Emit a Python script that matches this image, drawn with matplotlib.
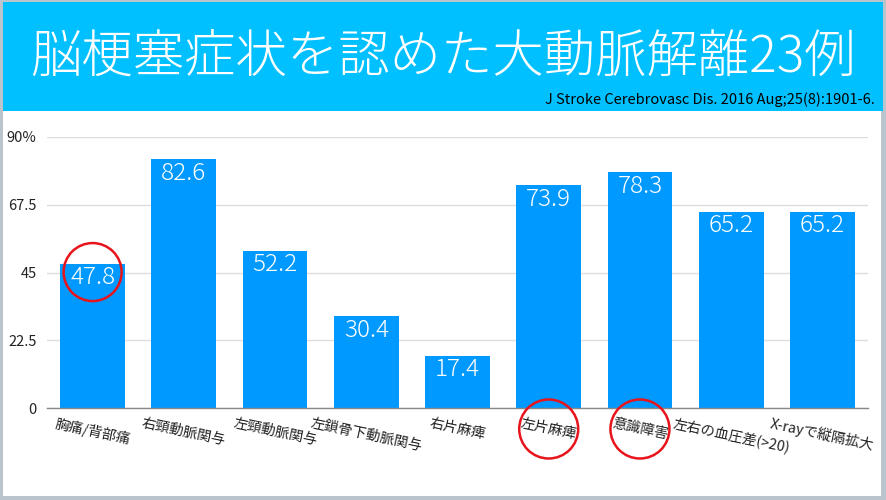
import matplotlib
matplotlib.use("Agg")
import matplotlib.pyplot as plt
from matplotlib.patches import Rectangle, Circle
from matplotlib.transforms import IdentityTransform

plt.rcParams['font.family'] = ['Noto Sans CJK JP', 'DejaVu Sans']

title = '脳梗塞症状を認めた大動脈解離23例'
citation = 'J Stroke Cerebrovasc Dis. 2016 Aug;25(8):1901-6.'
categories = ['胸痛/背部痛', '右頸動脈関与', '左頸動脈関与', '左鎖骨下動脈関与', '右片麻痺',
              '左片麻痺', '意識障害', '左右の血圧差(>20)', 'X-rayで縦隔拡大']
values = [47.8, 82.6, 52.2, 30.4, 17.4, 73.9, 78.3, 65.2, 65.2]
yticks = [0, 22.5, 45, 67.5, 90]
ytick_labels = ['0', '22.5', '45', '67.5', '90%']
value_circled = [0]      # bars whose value label is circled
label_circled = [5, 6]   # bars whose category label is circled

W, H = 886, 500
fig = plt.figure(figsize=(W / 100, H / 100), dpi=100, facecolor='#BAC4CD')

# slide background and header band (figure pixel coords)
px = lambda x, y: (x / W, 1 - y / H)
fig.patches.append(Rectangle(px(3, 496), 878 / W, 494 / H, transform=fig.transFigure,
                             facecolor='white', edgecolor='none', zorder=-2))
fig.patches.append(Rectangle(px(3, 111), 880 / W, 109 / H, transform=fig.transFigure,
                             facecolor='#00C0FF', edgecolor='none', zorder=-1))
fig.text(0.5, 1 - 57 / H, title, color='white', fontsize=37, ha='center', va='center',
         fontweight='light')
fig.text(875 / W, 1 - 100 / H, citation, color='black', fontsize=10.5, ha='right', va='center')

ax = fig.add_axes([47 / W, 92 / H, 821 / W, 271 / H])
ax.set_zorder(1)
ax.set_facecolor('none')
x = list(range(len(categories)))
ax.bar(x, values, width=0.71, color='#0099FF', zorder=2)
ax.set_xlim(-0.5, len(categories) - 0.5)
ax.set_ylim(0, 90)
ax.set_yticks(yticks)
ax.set_yticklabels(ytick_labels, fontsize=10.5, color='#222222')
ax.set_xticks(x)
ax.set_xticklabels(categories, fontsize=10.3, rotation=-12, ha='center', va='top',
                   color='#222222')
ax.tick_params(length=0, axis='y', pad=7.5)
ax.tick_params(length=0, axis='x', pad=6)
ax.grid(axis='y', color='#DDDDDD', linewidth=1, zorder=0)
ax.set_axisbelow(True)
for s in ['top', 'right', 'left']:
    ax.spines[s].set_visible(False)
ax.spines['bottom'].set_color('#888888')
ax.spines['bottom'].set_linewidth(1)
ax.spines['bottom'].set_zorder(3)

for i, v in zip(x, values):
    ax.annotate(f'{v}', (i, v), xytext=(0, -1), textcoords='offset points',
                ha='center', va='top', color='white', fontsize=17.5, fontweight='light',
                zorder=4)

# red highlight circles (computed from bar positions)
for i in value_circled:
    cx, cy = ax.transData.transform((i, values[i]))
    fig.patches.append(Circle((cx, cy - 8), 29, transform=IdentityTransform(),
                              fill=False, edgecolor='#E8141B', linewidth=1.8, zorder=5))
for i in label_circled:
    cx, cy = ax.transData.transform((i, 0))
    fig.patches.append(Circle((cx, cy - 21), 29.5, transform=IdentityTransform(),
                              fill=False, edgecolor='#E8141B', linewidth=1.8, zorder=5))

fig.savefig('out.png', dpi=100, facecolor=fig.get_facecolor())
